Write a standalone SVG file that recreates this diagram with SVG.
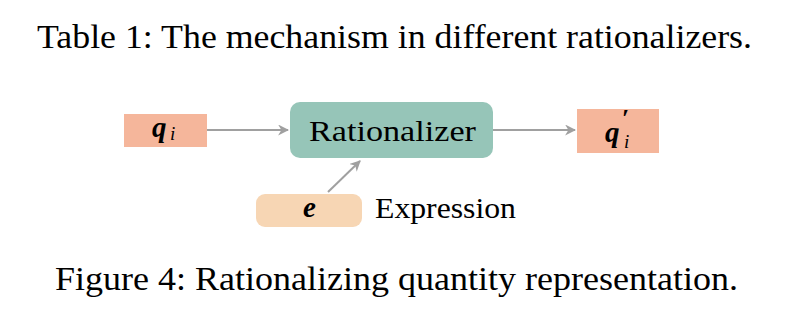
<svg xmlns="http://www.w3.org/2000/svg" width="797" height="309" viewBox="0 0 797 309">
<style>
.t{font-family:"Liberation Serif","DejaVu Serif",serif;fill:#000}
.m{font-family:"Liberation Serif","DejaVu Serif",serif;font-style:italic;fill:#000}
.conn line{stroke:#a0a0a0;stroke-width:2;fill:none}
</style>
<defs>
<marker id="ah" viewBox="0 0 10 10" refX="9" refY="5" markerWidth="11" markerHeight="11" markerUnits="userSpaceOnUse" orient="auto">
<path d="M0,0 L10,5 L0,10 L3,5 Z" fill="#a0a0a0"/>
</marker>
</defs>
<rect width="797" height="309" fill="#fff"/>
<text class="t" x="37" y="48" font-size="33" textLength="715" lengthAdjust="spacingAndGlyphs">Table 1: The mechanism in different rationalizers.</text>
<g id="qi">
<rect x="124" y="114" width="83" height="33" fill="#f5b69b"/>
<text class="m" x="152" y="137" font-size="29" font-weight="bold">q</text>
<text class="m" x="170" y="140" font-size="19">i</text>
</g>
<g id="rationalizer">
<rect x="290" y="102" width="203" height="56" rx="10" fill="#96c5b8"/>
<text class="t" x="309" y="141" font-size="30" textLength="167" lengthAdjust="spacingAndGlyphs">Rationalizer</text>
</g>
<g id="qpi">
<rect x="577" y="109" width="82" height="44" fill="#f5b69b"/>
<text class="m" x="605" y="142" font-size="29" font-weight="bold">q</text>
<text class="m" x="624" y="148" font-size="19">i</text>
<text class="t" x="622" y="127" font-size="26" font-weight="bold">′</text>
</g>
<g id="e">
<rect x="256" y="194" width="106" height="33" rx="9" fill="#f7d6b4"/>
<text class="m" x="309.500" y="217" text-anchor="middle" font-size="29" font-weight="bold">e</text>
<text class="t" x="375" y="218" font-size="30" textLength="141" lengthAdjust="spacingAndGlyphs">Expression</text>
</g>
<g class="conn">
<line x1="207" y1="130" x2="288" y2="130" marker-end="url(#ah)"/>
<line x1="493" y1="130" x2="575" y2="130" marker-end="url(#ah)"/>
<line x1="328" y1="192" x2="360" y2="161" marker-end="url(#ah)"/>
</g>
<text class="t" x="55" y="290" font-size="33" textLength="683" lengthAdjust="spacingAndGlyphs">Figure 4: Rationalizing quantity representation.</text>
</svg>
